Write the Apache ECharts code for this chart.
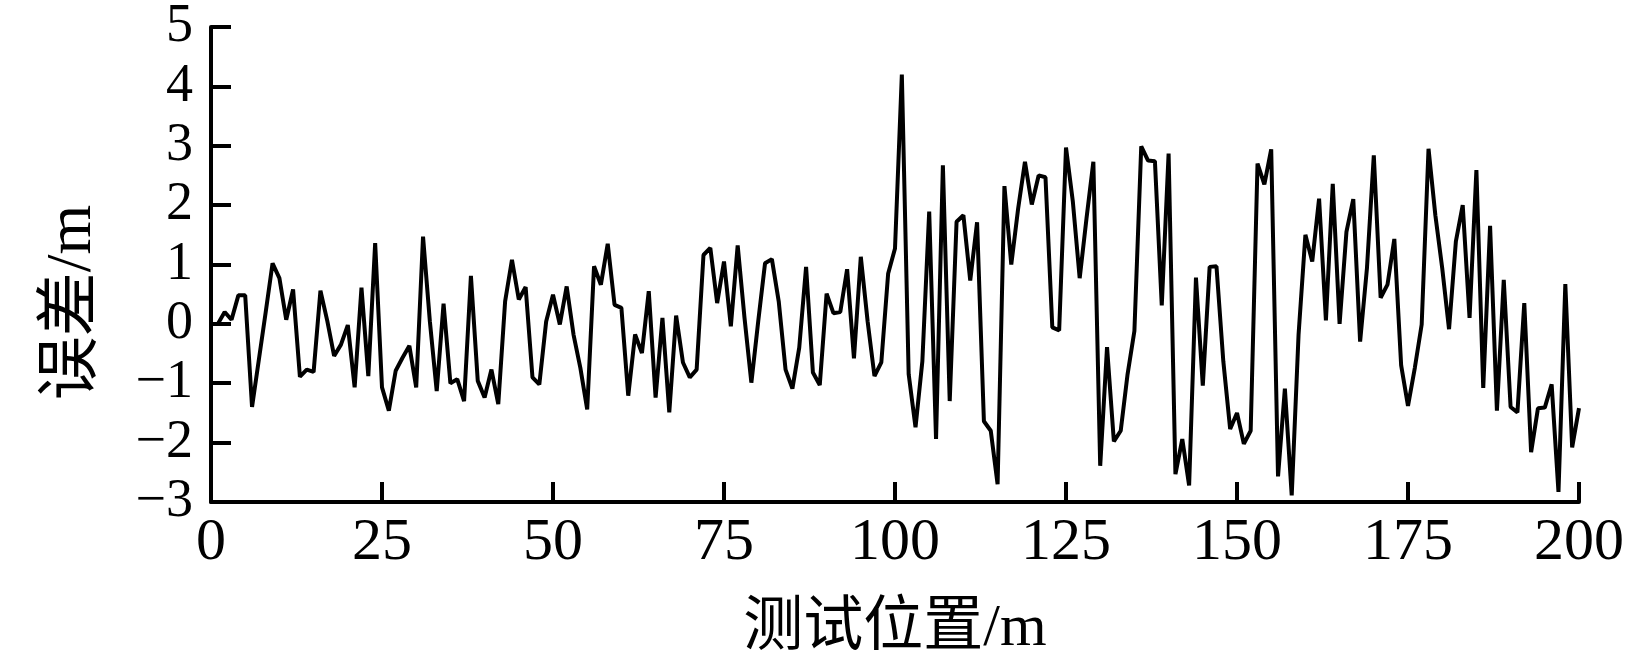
<!DOCTYPE html>
<html>
<head>
<meta charset="utf-8">
<script src="https://cdn.jsdelivr.net/npm/echarts@6/dist/echarts.min.js"></script>
<style>
html, body { margin: 0; padding: 0; background: #fff; }
#chart { width: 1627px; height: 664px; }
</style>
</head>
<body>
<div id="chart"></div>
<script>
// Test positions (m)
const positions = [
  1,2,3,4,5,6,7,8,9,10,11,12,13,14,15,16,17,18,19,20,
  21,22,23,24,25,26,27,28,29,30,31,32,33,34,35,36,37,38,39,40,
  41,42,43,44,45,46,47,48,49,50,51,52,53,54,55,56,57,58,59,60,
  61,62,63,64,65,66,67,68,69,70,71,72,73,74,75,76,77,78,79,80,
  81,82,83,84,85,86,87,88,89,90,91,92,93,94,95,96,97,98,99,100,
  101,102,103,104,105,106,107,108,109,110,111,112,113,114,115,116,117,118,119,120,
  121,122,123,124,125,126,127,128,129,130,131,132,133,134,135,136,137,138,139,140,
  141,142,143,144,145,146,147,148,149,150,151,152,153,154,155,156,157,158,159,160,
  161,162,163,164,165,166,167,168,169,170,171,172,173,174,175,176,177,178,179,180,
  181,182,183,184,185,186,187,188,189,190,191,192,193,194,195,196,197,198,199,200
];
// Error (m)
const errors = [
  0.0, 0.2, 0.07, 0.48, 0.48, -1.4, -0.6, 0.2, 1.02, 0.77,
  0.07, 0.58, -0.89, -0.77, -0.81, 0.56, 0.05, -0.54, -0.35, -0.02,
  -1.07, 0.61, -0.88, 1.36, -1.07, -1.46, -0.79, -0.57, -0.37, -1.07,
  1.47, 0.04, -1.13, 0.34, -1.0, -0.93, -1.3, 0.81, -0.96, -1.24,
  -0.77, -1.35, 0.38, 1.08, 0.41, 0.62, -0.9, -1.02, 0.04, 0.49,
  -0.01, 0.63, -0.18, -0.74, -1.44, 0.97, 0.66, 1.35, 0.32, 0.27,
  -1.21, -0.18, -0.49, 0.55, -1.24, 0.1, -1.49, 0.14, -0.65, -0.9,
  -0.77, 1.16, 1.28, 0.35, 1.05, -0.04, 1.32, 0.1, -0.99, 0.04,
  1.02, 1.09, 0.38, -0.77, -1.09, -0.4, 0.96, -0.82, -1.03, 0.51,
  0.18, 0.2, 0.92, -0.58, 1.13, 0.04, -0.88, -0.65, 0.85, 1.27,
  4.2, -0.85, -1.74, -0.63, 1.89, -1.94, 2.67, -1.3, 1.72, 1.83,
  0.73, 1.71, -1.64, -1.8, -2.7, 2.32, 1.0, 1.94, 2.73, 2.01,
  2.5, 2.47, -0.06, -0.11, 2.97, 2.06, 0.77, 1.78, 2.73, -2.39,
  -0.39, -1.98, -1.8, -0.85, -0.12, 2.99, 2.75, 2.74, 0.31, 2.87,
  -2.53, -1.94, -2.72, 0.78, -1.04, 0.96, 0.97, -0.63, -1.77, -1.5,
  -2.02, -1.8, 2.7, 2.35, 2.94, -2.57, -1.09, -2.89, -0.18, 1.5,
  1.05, 2.11, 0.06, 2.36, 0.0, 1.55, 2.1, -0.3, 0.94, 2.84,
  0.44, 0.66, 1.43, -0.7, -1.38, -0.74, -0.01, 2.95, 1.83, 0.94,
  -0.09, 1.39, 2.0, 0.1, 2.59, -1.08, 1.65, -1.46, 0.74, -1.4,
  -1.49, 0.35, -2.16, -1.42, -1.41, -1.02, -2.83, 0.67, -2.08, -1.42
];
const xTicks = [0, 25, 50, 75, 100, 125, 150, 175, 200];
const yTicks = [-3, -2, -1, 0, 1, 2, 3, 4, 5];
const xName = '测试位置/m';
const yName = '误差/m';

const seriesData = positions.map((p, i) => [p, errors[i]]);
const serif = "'Liberation Serif', 'Times New Roman', 'Noto Sans CJK SC', serif";

const chart = echarts.init(document.getElementById('chart'), null, { renderer: 'canvas' });
chart.setOption({
  animation: false,
  backgroundColor: '#fff',
  grid: { left: 211, right: 48, top: 24, bottom: 162, containLabel: false },
  xAxis: {
    type: 'value',
    min: xTicks[0], max: xTicks[xTicks.length - 1], interval: 25,
    name: xName, nameLocation: 'middle', nameGap: 97,
    nameTextStyle: { fontFamily: serif, fontSize: 60, color: '#000' },
    axisLine: { show: true, onZero: false, lineStyle: { color: '#000', width: 4 } },
    axisTick: { show: true, inside: true, length: 20, lineStyle: { color: '#000', width: 4 } },
    axisLabel: { fontFamily: serif, fontSize: 60, color: '#000', margin: 11 },
    splitLine: { show: false }
  },
  yAxis: {
    type: 'value',
    min: yTicks[0], max: yTicks[yTicks.length - 1], interval: 1,
    name: yName, nameLocation: 'middle', nameGap: 106,
    nameTextStyle: { fontFamily: serif, fontSize: 64, color: '#000', padding: [0, 76, 0, 0] },
    axisLine: { show: true, lineStyle: { color: '#000', width: 4 } },
    axisTick: { show: true, inside: true, length: 20, lineStyle: { color: '#000', width: 4 } },
    axisLabel: {
      fontFamily: serif, fontSize: 54, color: '#000', margin: 18,
      padding: [8, 0, 0, 0],
      formatter: v => String(v).replace('-', '\u2212')
    },
    splitLine: { show: false }
  },
  series: [{
    type: 'line',
    data: seriesData,
    showSymbol: false,
    symbol: 'none',
    lineStyle: { color: '#000', width: 4, join: 'bevel' },
    emphasis: { disabled: true }
  }]
});
</script>
</body>
</html>
